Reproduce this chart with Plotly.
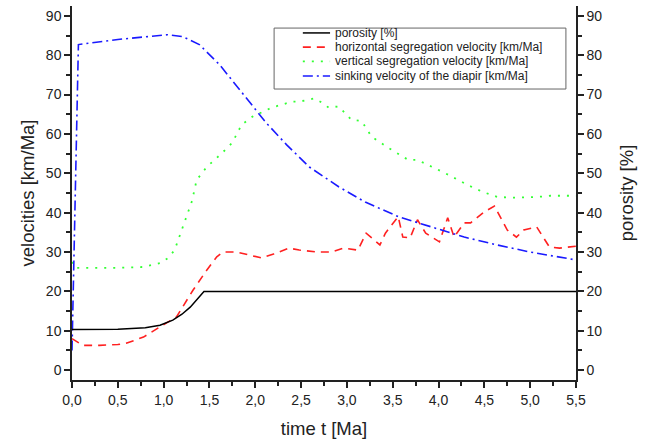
import plotly.graph_objects as go

# ---- data ----
t_por = [0, 0.5, 0.8, 0.96, 1.1, 1.2, 1.29, 1.38, 1.44, 5.5]
porosity = [10.3, 10.4, 10.8, 11.4, 12.7, 14.2, 16.0, 18.5, 20.0, 20.0]

t_hor = [0, 0.12, 0.3, 0.5, 0.6, 0.78, 0.96, 1.14, 1.32, 1.47, 1.58, 1.65, 1.8, 1.9, 2.07, 2.2,
         2.37, 2.48, 2.69, 2.83, 2.96, 3.12, 3.21, 3.36, 3.42, 3.56, 3.61, 3.69, 3.77, 3.86, 4.01,
         4.10, 4.17, 4.28, 4.35, 4.50, 4.61, 4.75, 4.85, 4.93, 5.07, 5.21, 5.32, 5.5]
v_hor = [8.0, 6.3, 6.3, 6.5, 6.9, 8.4, 11.0, 13.5, 20.3, 25.4, 28.8, 30.0, 30.0, 29.5, 28.5, 29.5,
         31.0, 30.5, 30.0, 30.0, 31.0, 30.5, 34.8, 31.8, 34.8, 39.0, 33.8, 33.6, 38.2, 34.8, 32.6,
         38.7, 33.8, 37.4, 37.4, 40.2, 41.7, 35.6, 33.8, 35.6, 36.4, 31.3, 31.0, 31.5]

t_ver = [0, 0.03, 0.5, 0.77, 0.96, 1.05, 1.12, 1.21, 1.31, 1.36, 1.47, 1.64, 1.75, 1.85, 1.97,
         2.18, 2.40, 2.48, 2.64, 2.71, 2.80, 2.91, 3.05, 3.16, 3.27, 3.45, 3.67, 3.77, 3.93, 4.11,
         4.32, 4.48, 4.64, 4.83, 5.08, 5.22, 5.5]
v_ver = [27.5, 26.0, 26.0, 26.2, 27.2, 28.5, 30.5, 36.4, 43.0, 48.3, 51.6, 55.2, 57.8, 62.3, 64.4,
         66.7, 68.2, 68.2, 69.0, 68.2, 66.7, 67.0, 63.6, 63.3, 59.3, 56.5, 53.4, 53.4, 51.7, 49.6,
         47.0, 45.3, 44.0, 43.8, 44.0, 44.3, 44.3]

t_sink = [0, 0.03, 0.07, 0.5, 1.04, 1.21, 1.39, 1.61, 1.90, 2.12, 2.34, 2.59, 2.91, 3.20, 3.56,
          3.93, 4.28, 4.64, 5.0, 5.5]
v_sink = [5.0, 40.0, 82.7, 84.0, 85.2, 84.7, 82.7, 77.6, 69.2, 62.8, 57.3, 51.6, 46.6, 42.7, 39.0,
          36.4, 33.8, 31.8, 30.0, 28.0]

x_ticks = [0, 0.5, 1.0, 1.5, 2.0, 2.5, 3.0, 3.5, 4.0, 4.5, 5.0, 5.5]
x_labels = ["0,0", "0,5", "1,0", "1,5", "2,0", "2,5", "3,0", "3,5", "4,0", "4,5", "5,0", "5,5"]
y_ticks = [0, 10, 20, 30, 40, 50, 60, 70, 80, 90]

names = ["porosity [%]",
         "horizontal segregation velocity [km/Ma]",
         "vertical segregation velocity [km/Ma]",
         "sinking velocity of the diapir [km/Ma]"]
colors = ["#000000", "#ff2020", "#33ff33", "#1a1aff"]
dashes = ["solid", "8px,6px", "2px,7px", "10px,4px,2px,4px"]
widths = [1.5, 1.6, 1.8, 1.6]

fig = go.Figure()
series = [(t_por, porosity, "y2"), (t_hor, v_hor, "y"), (t_ver, v_ver, "y"), (t_sink, v_sink, "y")]
for i, (tx, vy, ax) in enumerate(series):
    fig.add_trace(go.Scatter(x=tx, y=vy, name=names[i], mode="lines", yaxis=ax,
                             line=dict(color=colors[i], width=widths[i], dash=dashes[i]),
                             showlegend=False))

font = "Liberation Sans, Arial, sans-serif"
common_y = dict(range=[-2.5, 92.5], tickvals=y_ticks, ticks="outside", ticklen=6, tickwidth=1.5,
                tickcolor="#222", showline=True, linecolor="#222", linewidth=1.5,
                showgrid=False, zeroline=False, automargin=False,
                tickfont=dict(size=14, color="#222", family=font),
                minor=dict(ticks="outside", dtick=5, ticklen=4, tickwidth=1.5, tickcolor="#222"))

# manual legend box (paper coordinates)
lx0, lx1, ly0, ly1 = 0.401, 0.980, 0.778, 0.941
row_y = [0.928, 0.890, 0.852, 0.813]
sx0, sx1, tx0 = 0.458, 0.512, 0.518
shapes = [dict(type="rect", xref="paper", yref="paper", x0=lx0, x1=lx1, y0=ly0, y1=ly1,
               line=dict(color="#666", width=1), fillcolor="white", layer="above")]
annotations = []
for i in range(4):
    shapes.append(dict(type="line", xref="paper", yref="paper", x0=sx0, x1=sx1,
                       y0=row_y[i], y1=row_y[i], layer="above",
                       line=dict(color=colors[i], width=widths[i], dash=dashes[i])))
    annotations.append(dict(xref="paper", yref="paper", x=tx0, y=row_y[i], text=names[i],
                            showarrow=False, xanchor="left", yanchor="middle",
                            font=dict(size=12, color="#222", family=font)))

fig.update_layout(
    width=646, height=439,
    margin=dict(l=72, r=70, t=6, b=59, autoexpand=False),
    paper_bgcolor="white", plot_bgcolor="white",
    font=dict(family=font, color="#222"),
    xaxis=dict(range=[0, 5.5], tickvals=x_ticks, ticktext=x_labels, ticks="outside",
               ticklen=6, tickwidth=1.5, tickcolor="#222", showline=True, linecolor="#222",
               linewidth=1.5, showgrid=False, zeroline=False, automargin=False,
               tickfont=dict(size=14, color="#222", family=font),
               minor=dict(ticks="outside", dtick=0.25, ticklen=4, tickwidth=1.5, tickcolor="#222"),
               title=dict(text="time t [Ma]", font=dict(size=18.5, color="#222", family=font),
                          standoff=22)),
    yaxis=dict(**common_y,
               title=dict(text="velocities [km/Ma]", font=dict(size=18.5, color="#222", family=font),
                          standoff=6)),
    yaxis2=dict(**common_y, overlaying="y", side="right", anchor="x",
                title=dict(text="porosity [%]", font=dict(size=18.5, color="#222", family=font),
                           standoff=19)),
    shapes=shapes,
    annotations=annotations,
    showlegend=False,
)

fig.write_html("out.html", config={"displayModeBar": False},
               post_script="document.body.style.margin='0';")
